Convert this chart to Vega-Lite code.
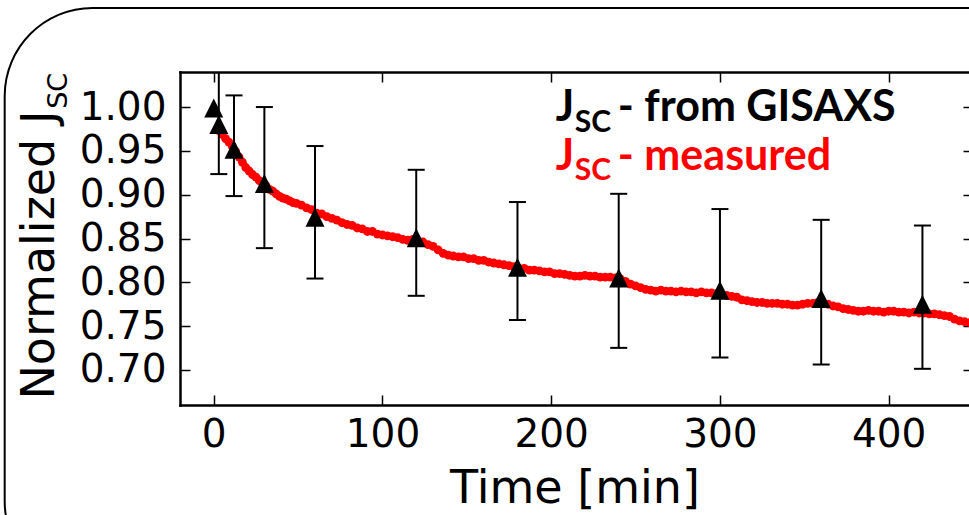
{
  "$schema": "https://vega.github.io/schema/vega-lite/v6.json",
  "width": 789,
  "height": 333,
  "autosize": {"type": "none"},
  "padding": {"left": 180, "top": 72, "right": 0, "bottom": 110},
  "background": "white",
  "config": {"view": {"stroke": null}, "font": "DejaVu Sans"},
  "datasets": {
    "measured": [
      {"t":3,"v":0.973},{"t":5,"v":0.969},{"t":7,"v":0.964},{"t":9,"v":0.960},{"t":11,"v":0.955},{"t":13,"v":0.949},{"t":15,"v":0.943},{"t":17,"v":0.937},{"t":19,"v":0.931},{"t":21,"v":0.927},{"t":23,"v":0.923},{"t":25,"v":0.920},{"t":27,"v":0.916},{"t":29,"v":0.913},{"t":31,"v":0.910},{"t":33,"v":0.906},{"t":35,"v":0.904},{"t":37,"v":0.901},{"t":39,"v":0.898},{"t":41,"v":0.896},{"t":43,"v":0.895},{"t":45,"v":0.893},{"t":47,"v":0.891},{"t":49,"v":0.890},
      {"t":52,"v":0.888},{"t":55,"v":0.885},{"t":58,"v":0.883},{"t":61,"v":0.879},{"t":64,"v":0.878},{"t":67,"v":0.875},{"t":70,"v":0.873},{"t":73,"v":0.871},{"t":76,"v":0.868},{"t":79,"v":0.866},{"t":82,"v":0.865},{"t":85,"v":0.862},{"t":88,"v":0.861},{"t":91,"v":0.858},{"t":94,"v":0.858},{"t":97,"v":0.855},{"t":100,"v":0.854},{"t":103,"v":0.853},{"t":106,"v":0.852},{"t":109,"v":0.851},{"t":112,"v":0.849},{"t":115,"v":0.848},{"t":118,"v":0.849},{"t":121,"v":0.847},{"t":124,"v":0.846},{"t":127,"v":0.843},{"t":130,"v":0.841},{"t":133,"v":0.837},{"t":136,"v":0.833},{"t":139,"v":0.831},{"t":142,"v":0.830},{"t":145,"v":0.829},{"t":148,"v":0.829},
      {"t":151,"v":0.827},{"t":154,"v":0.827},{"t":157,"v":0.825},{"t":160,"v":0.825},{"t":163,"v":0.823},{"t":166,"v":0.822},{"t":169,"v":0.821},{"t":172,"v":0.820},{"t":175,"v":0.819},{"t":178,"v":0.818},{"t":181,"v":0.816},{"t":184,"v":0.816},{"t":187,"v":0.814},{"t":190,"v":0.814},{"t":193,"v":0.813},{"t":196,"v":0.812},{"t":199,"v":0.812},{"t":202,"v":0.810},{"t":205,"v":0.810},{"t":208,"v":0.809},{"t":211,"v":0.808},{"t":214,"v":0.807},{"t":217,"v":0.807},{"t":220,"v":0.808},{"t":223,"v":0.807},{"t":226,"v":0.807},{"t":229,"v":0.806},{"t":232,"v":0.806},{"t":235,"v":0.806},{"t":238,"v":0.805},{"t":241,"v":0.804},{"t":244,"v":0.801},{"t":247,"v":0.798},{"t":250,"v":0.796},
      {"t":253,"v":0.794},{"t":256,"v":0.792},{"t":259,"v":0.791},{"t":262,"v":0.790},{"t":265,"v":0.791},{"t":268,"v":0.790},{"t":271,"v":0.790},{"t":274,"v":0.789},{"t":277,"v":0.790},{"t":280,"v":0.789},{"t":283,"v":0.789},{"t":286,"v":0.788},{"t":289,"v":0.789},{"t":292,"v":0.788},{"t":295,"v":0.788},{"t":298,"v":0.787},{"t":301,"v":0.786},{"t":304,"v":0.785},{"t":307,"v":0.784},{"t":310,"v":0.783},{"t":313,"v":0.780},{"t":316,"v":0.779},{"t":319,"v":0.778},{"t":322,"v":0.777},{"t":325,"v":0.777},{"t":328,"v":0.776},{"t":331,"v":0.776},{"t":334,"v":0.776},{"t":337,"v":0.775},{"t":340,"v":0.775},{"t":343,"v":0.774},{"t":346,"v":0.774},{"t":349,"v":0.775},{"t":352,"v":0.776},{"t":355,"v":0.776},{"t":358,"v":0.777},{"t":361,"v":0.776},{"t":364,"v":0.775},{"t":367,"v":0.773},{"t":370,"v":0.772},
      {"t":373,"v":0.770},{"t":376,"v":0.769},{"t":379,"v":0.768},{"t":382,"v":0.767},{"t":385,"v":0.767},{"t":388,"v":0.768},{"t":391,"v":0.767},{"t":394,"v":0.767},{"t":397,"v":0.766},{"t":400,"v":0.767},{"t":403,"v":0.767},{"t":406,"v":0.766},{"t":409,"v":0.766},{"t":412,"v":0.765},{"t":415,"v":0.766},{"t":418,"v":0.765},{"t":421,"v":0.765},{"t":424,"v":0.764},{"t":427,"v":0.764},{"t":430,"v":0.763},{"t":433,"v":0.762},{"t":436,"v":0.761},{"t":439,"v":0.758},{"t":442,"v":0.756},{"t":445,"v":0.755},{"t":448,"v":0.754}
    ],
    "gisaxs": [
      {"t":0,"v":0.999,"lo":null,"hi":null},
      {"t":3,"v":0.980,"lo":0.9235,"hi":1.06},
      {"t":12,"v":0.9518,"lo":0.8984,"hi":1.0133},
      {"t":30,"v":0.9127,"lo":0.839,"hi":1.000},
      {"t":60,"v":0.8742,"lo":0.8043,"hi":0.9555},
      {"t":120,"v":0.8508,"lo":0.7846,"hi":0.9284},
      {"t":180,"v":0.8171,"lo":0.757,"hi":0.8916},
      {"t":240,"v":0.8048,"lo":0.7252,"hi":0.901},
      {"t":300,"v":0.7909,"lo":0.7142,"hi":0.8836},
      {"t":360,"v":0.7815,"lo":0.7062,"hi":0.8713},
      {"t":420,"v":0.7749,"lo":0.7013,"hi":0.8648}
    ]
  },
  "resolve": {"axis": {"x": "independent", "y": "independent"}},
  "layer": [
    {
      "data": {"values": [{}]},
      "mark": {"type": "rect", "clip": false, "fill": "white", "fillOpacity": 0, "stroke": "black", "strokeWidth": 2, "cornerRadius": 88},
      "encoding": {
        "x": {"datum": -123.9, "type": "quantitative", "scale": {"domain": [-20, 447.6], "nice": false, "zero": false}, "axis": null},
        "x2": {"datum": 520},
        "y": {"datum": 1.113, "type": "quantitative", "scale": {"domain": [0.66, 1.04], "nice": false, "zero": false}, "axis": null},
        "y2": {"datum": 0.45}
      }
    },
    {
      "data": {"name": "measured"},
      "mark": {"type": "circle", "size": 78, "color": "#ff0000", "opacity": 1, "clip": true},
      "encoding": {
        "x": {"field": "t", "type": "quantitative", "scale": {"domain": [-20, 447.6], "nice": false, "zero": false},
          "axis": {"orient": "bottom", "values": [0, 100, 200, 300, 400], "format": "d", "labelFont": "DejaVu Sans", "labelFontSize": 39, "labelColor": "black", "labelPadding": 20, "labelFlush": false, "labelOverlap": false, "tickSize": -10, "tickWidth": 1.5, "tickColor": "black", "domainColor": "black", "domainWidth": 2.5, "domainCap": "square", "grid": false, "title": "Time [min]", "titleFont": "DejaVu Sans", "titleFontSize": 46, "titleFontWeight": "normal", "titleColor": "black", "titleBaseline": "alphabetic", "titleY": 97}},
        "y": {"field": "v", "type": "quantitative", "scale": {"domain": [0.66, 1.04], "nice": false, "zero": false},
          "axis": {"orient": "left", "values": [0.7, 0.75, 0.8, 0.85, 0.9, 0.95, 1.0], "format": ".2f", "labelFont": "DejaVu Sans", "labelFontSize": 39, "labelColor": "black", "labelPadding": 24, "labelFlush": false, "labelOverlap": false, "tickSize": -10, "tickWidth": 1.5, "tickColor": "black", "domainColor": "black", "domainWidth": 2.5, "domainCap": "square", "grid": false, "title": "Normalized J", "titleFont": "DejaVu Sans", "titleFontSize": 46, "titleFontWeight": "normal", "titleColor": "black", "titleAngle": 270, "titleAlign": "right", "titleBaseline": "alphabetic", "titleX": -127, "titleY": 38}}
      }
    },
    {
      "data": {"name": "gisaxs"},
      "transform": [{"filter": "isValid(datum.lo)"}],
      "mark": {"type": "rule", "color": "black", "strokeWidth": 2, "clip": true},
      "encoding": {
        "x": {"field": "t", "type": "quantitative", "scale": {"domain": [-20, 447.6], "nice": false, "zero": false},
          "axis": {"orient": "top", "values": [0, 100, 200, 300, 400], "labels": false, "title": null, "tickSize": -10, "tickWidth": 1.5, "tickColor": "black", "domainColor": "black", "domainWidth": 2.5, "domainCap": "square", "grid": false}},
        "y": {"field": "lo", "type": "quantitative", "scale": {"domain": [0.66, 1.04], "nice": false, "zero": false},
          "axis": {"orient": "right", "values": [0.7, 0.75, 0.8, 0.85, 0.9, 0.95, 1.0], "labels": false, "title": null, "tickSize": -6, "tickWidth": 1.5, "tickColor": "black", "domain": false, "grid": false}},
        "y2": {"field": "hi"}
      }
    },
    {
      "data": {"name": "gisaxs"},
      "transform": [{"filter": "isValid(datum.lo)"}],
      "mark": {"type": "tick", "orient": "horizontal", "size": 17, "thickness": 2, "color": "black", "opacity": 1, "clip": true},
      "encoding": {
        "x": {"field": "t", "type": "quantitative", "scale": {"domain": [-20, 447.6], "nice": false, "zero": false}, "axis": null},
        "y": {"field": "lo", "type": "quantitative", "scale": {"domain": [0.66, 1.04], "nice": false, "zero": false}, "axis": null}
      }
    },
    {
      "data": {"name": "gisaxs"},
      "transform": [{"filter": "isValid(datum.hi)"}],
      "mark": {"type": "tick", "orient": "horizontal", "size": 17, "thickness": 2, "color": "black", "opacity": 1, "clip": true},
      "encoding": {
        "x": {"field": "t", "type": "quantitative", "scale": {"domain": [-20, 447.6], "nice": false, "zero": false}, "axis": null},
        "y": {"field": "hi", "type": "quantitative", "scale": {"domain": [0.66, 1.04], "nice": false, "zero": false}, "axis": null}
      }
    },
    {
      "data": {"name": "gisaxs"},
      "mark": {"type": "point", "shape": "M0,-1L1,1L-1,1Z", "size": 360, "filled": true, "color": "black", "opacity": 1, "strokeWidth": 0, "clip": true},
      "encoding": {
        "x": {"field": "t", "type": "quantitative", "scale": {"domain": [-20, 447.6], "nice": false, "zero": false}, "axis": null},
        "y": {"field": "v", "type": "quantitative", "scale": {"domain": [0.66, 1.04], "nice": false, "zero": false}, "axis": null}
      }
    },
    {
      "data": {"values": [{}]},
      "mark": {"type": "text", "text": "SC", "font": "DejaVu Sans", "fontSize": 27, "angle": 270, "align": "left", "baseline": "alphabetic", "color": "black", "clip": false},
      "encoding": {
        "x": {"datum": -87.1, "type": "quantitative", "scale": {"domain": [-20, 447.6], "nice": false, "zero": false}, "axis": null},
        "y": {"datum": 0.998, "type": "quantitative", "scale": {"domain": [0.66, 1.04], "nice": false, "zero": false}, "axis": null}
      }
    },
    {
      "data": {"values": [{}]},
      "mark": {"type": "text", "text": "J", "font": "Lato", "fontWeight": "bold", "fontSize": 43, "align": "left", "baseline": "alphabetic", "color": "black"},
      "encoding": {
        "x": {"datum": 202.7, "type": "quantitative", "scale": {"domain": [-20, 447.6], "nice": false, "zero": false}, "axis": null},
        "y": {"datum": 0.9836, "type": "quantitative", "scale": {"domain": [0.66, 1.04], "nice": false, "zero": false}, "axis": null}
      }
    },
    {
      "data": {"values": [{}]},
      "mark": {"type": "text", "text": "SC", "font": "Lato", "fontWeight": "bold", "fontSize": 30, "align": "left", "baseline": "alphabetic", "color": "black"},
      "encoding": {
        "x": {"datum": 214.0, "type": "quantitative", "scale": {"domain": [-20, 447.6], "nice": false, "zero": false}, "axis": null},
        "y": {"datum": 0.9721, "type": "quantitative", "scale": {"domain": [0.66, 1.04], "nice": false, "zero": false}, "axis": null}
      }
    },
    {
      "data": {"values": [{}]},
      "mark": {"type": "text", "text": "- from GISAXS", "font": "Lato", "fontWeight": "bold", "fontSize": 43, "align": "left", "baseline": "alphabetic", "color": "black"},
      "encoding": {
        "x": {"datum": 239.5, "type": "quantitative", "scale": {"domain": [-20, 447.6], "nice": false, "zero": false}, "axis": null},
        "y": {"datum": 0.9836, "type": "quantitative", "scale": {"domain": [0.66, 1.04], "nice": false, "zero": false}, "axis": null}
      }
    },
    {
      "data": {"values": [{}]},
      "mark": {"type": "text", "text": "J", "font": "Lato", "fontWeight": "bold", "fontSize": 43, "align": "left", "baseline": "alphabetic", "color": "#ff0000"},
      "encoding": {
        "x": {"datum": 202.7, "type": "quantitative", "scale": {"domain": [-20, 447.6], "nice": false, "zero": false}, "axis": null},
        "y": {"datum": 0.9284, "type": "quantitative", "scale": {"domain": [0.66, 1.04], "nice": false, "zero": false}, "axis": null}
      }
    },
    {
      "data": {"values": [{}]},
      "mark": {"type": "text", "text": "SC", "font": "Lato", "fontWeight": "bold", "fontSize": 30, "align": "left", "baseline": "alphabetic", "color": "#ff0000"},
      "encoding": {
        "x": {"datum": 214.0, "type": "quantitative", "scale": {"domain": [-20, 447.6], "nice": false, "zero": false}, "axis": null},
        "y": {"datum": 0.917, "type": "quantitative", "scale": {"domain": [0.66, 1.04], "nice": false, "zero": false}, "axis": null}
      }
    },
    {
      "data": {"values": [{}]},
      "mark": {"type": "text", "text": "- measured", "font": "Lato", "fontWeight": "bold", "fontSize": 43, "align": "left", "baseline": "alphabetic", "color": "#ff0000"},
      "encoding": {
        "x": {"datum": 239.5, "type": "quantitative", "scale": {"domain": [-20, 447.6], "nice": false, "zero": false}, "axis": null},
        "y": {"datum": 0.9284, "type": "quantitative", "scale": {"domain": [0.66, 1.04], "nice": false, "zero": false}, "axis": null}
      }
    }
  ]
}
